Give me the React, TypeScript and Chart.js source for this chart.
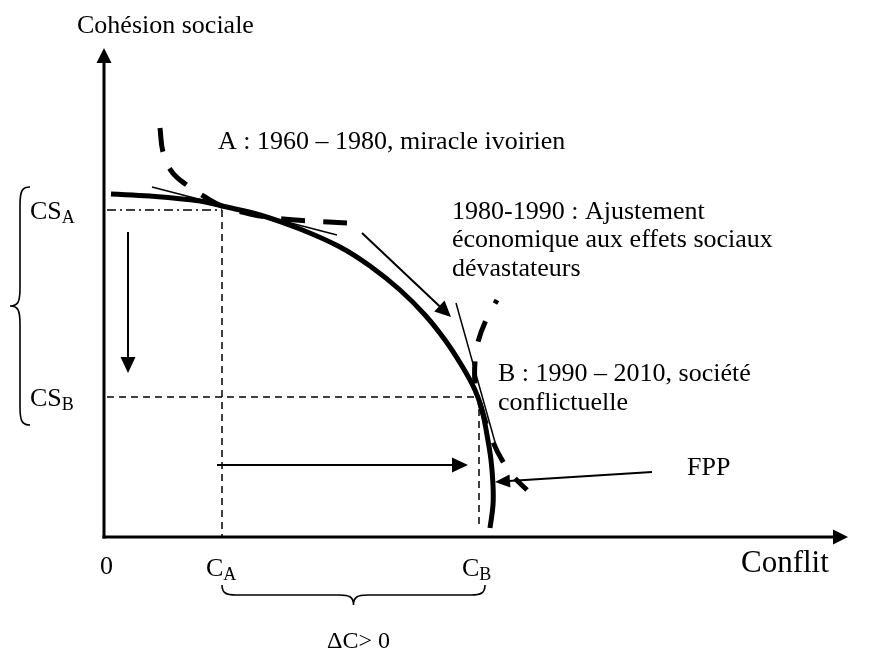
import React, { useEffect, useRef } from "react";
import { Chart, registerables } from "chart.js";
Chart.register(...registerables);

// Data units: origin where the two axes cross (Conflit → right, Cohésion sociale → up)
const xMin = -104;
const xMax = 765;
const yMin = -120;
const yMax = 537;

const yAxisTop = 489;
const xAxisEnd = 744;

// Frontière des possibilités de production (FPP)
const fppConflict = [7, 46, 96, 118, 156, 196, 236, 266, 296, 321, 341, 358, 371, 378, 383, 387, 389, 389, 386];
const fppCohesion = [343, 341, 336, 331, 322, 308, 290, 271, 247, 222, 197, 171, 147, 127, 102, 77, 52, 32, 9];

// Dashed curve tangent at A
const curveAConflict = [56, 59, 68, 84, 101, 118, 146, 179, 206, 243];
const curveACohesion = [409, 385, 365, 351, 340, 331, 323, 318, 316, 314];

// Dashed curve tangent at B
const curveBConflict = [393, 382, 374, 371, 371, 375, 381, 389, 398, 409, 423];
const curveBCohesion = [237, 217, 195, 175, 154, 137, 117, 95, 77, 61, 47];

// Thin tangents
const tangentAConflict = [48, 233];
const tangentACohesion = [350, 302];
const tangentBConflict = [352, 396];
const tangentBCohesion = [234, 77];

// Points A and B
const conflictA = 118;
const conflictB = 375;
const cohesionA = 327;
const cohesionB = 140;

// Arrows [from, to]
const adjustArrow = [[258, 304], [347, 220]];
const cohesionDropArrow = [[24, 305], [24, 164]];
const conflictRiseArrow = [[113, 72], [364, 72]];
const fppArrow = [[548, 65], [391, 55]];

// Braces
const leftBrace = { x: -74, tipX: -94, top: 350, bottom: 112 };
const bottomBrace = { y: -48, tipY: -68, left: 118, right: 381 };

const FONT = "'Liberation Serif', 'Times New Roman', serif";

const pts = (xs: number[], ys: number[]) => xs.map((x, i) => ({ x, y: ys[i] }));

function drawArrow(ctx: CanvasRenderingContext2D, x1: number, y1: number, x2: number, y2: number, lw: number, len: number, half: number) {
  const a = Math.atan2(y2 - y1, x2 - x1);
  const bx = x2 - len * Math.cos(a);
  const by = y2 - len * Math.sin(a);
  ctx.lineWidth = lw;
  ctx.beginPath();
  ctx.moveTo(x1, y1);
  ctx.lineTo(bx + Math.cos(a), by + Math.sin(a));
  ctx.stroke();
  ctx.beginPath();
  ctx.moveTo(x2, y2);
  ctx.lineTo(bx + half * Math.sin(a), by - half * Math.cos(a));
  ctx.lineTo(bx - half * Math.sin(a), by + half * Math.cos(a));
  ctx.closePath();
  ctx.fill();
}

function subText(ctx: CanvasRenderingContext2D, main: string, sub: string, x: number, y: number, size: number) {
  ctx.font = `${size}px ${FONT}`;
  ctx.textAlign = "left";
  ctx.textBaseline = "alphabetic";
  ctx.fillText(main, x, y);
  const w = ctx.measureText(main).width;
  ctx.font = `${Math.round(size * 0.68)}px ${FONT}`;
  ctx.fillText(sub, x + w, y + 4);
}

const overlay = {
  id: "overlay",
  beforeDatasetsDraw(chart: any) {
    const { ctx, scales } = chart;
    const px = (v: number) => scales.x.getPixelForValue(v);
    const py = (v: number) => scales.y.getPixelForValue(v);
    ctx.save();
    ctx.strokeStyle = "#000";
    ctx.fillStyle = "#000";
    ctx.lineCap = "butt";
    drawArrow(ctx, px(0), py(0) + 1.5, px(0), py(yAxisTop), 3, 15, 7.5);
    drawArrow(ctx, px(0) - 1.5, py(0), px(xAxisEnd), py(0), 3, 15, 7.5);
    ctx.restore();
  },
  afterDatasetsDraw(chart: any) {
    const { ctx, scales } = chart;
    const px = (v: number) => scales.x.getPixelForValue(v);
    const py = (v: number) => scales.y.getPixelForValue(v);
    ctx.save();
    ctx.strokeStyle = "#000";
    ctx.fillStyle = "#000";

    for (const [a, b] of [adjustArrow, cohesionDropArrow, conflictRiseArrow]) {
      drawArrow(ctx, px(a[0]), py(a[1]), px(b[0]), py(b[1]), 2, 16, 7.5);
    }
    drawArrow(ctx, px(fppArrow[0][0]), py(fppArrow[0][1]), px(fppArrow[1][0]), py(fppArrow[1][1]), 2, 15, 6.5);

    // Left brace
    ctx.lineWidth = 1.6;
    {
      const xe = px(leftBrace.x), xt = px(leftBrace.tipX), xm = (xe + xt) / 2;
      const t = py(leftBrace.top), b = py(leftBrace.bottom), m = (t + b) / 2, r = 18;
      ctx.beginPath();
      ctx.moveTo(xe, t);
      ctx.bezierCurveTo(xm + 2, t, xm, t + 4, xm, t + r);
      ctx.lineTo(xm, m - r);
      ctx.bezierCurveTo(xm, m - 4, xm - 2, m, xt, m);
      ctx.bezierCurveTo(xm - 2, m, xm, m + 4, xm, m + r);
      ctx.lineTo(xm, b - r);
      ctx.bezierCurveTo(xm, b - 4, xm + 2, b, xe, b);
      ctx.stroke();
    }
    // Bottom brace
    {
      const ye = py(bottomBrace.y), yt = py(bottomBrace.tipY), ym = (ye + yt) / 2;
      const l = px(bottomBrace.left), rr = px(bottomBrace.right), m = (l + rr) / 2, r = 14;
      ctx.beginPath();
      ctx.moveTo(l, ye);
      ctx.bezierCurveTo(l, ym - 2, l + 4, ym, l + r, ym);
      ctx.lineTo(m - r, ym);
      ctx.bezierCurveTo(m - 4, ym, m, ym + 2, m, yt);
      ctx.bezierCurveTo(m, ym + 2, m + 4, ym, m + r, ym);
      ctx.lineTo(rr - r, ym);
      ctx.bezierCurveTo(rr - 4, ym, rr, ym - 2, rr, ye);
      ctx.stroke();
    }

    // Texts
    const S = 26;
    ctx.textAlign = "left";
    ctx.textBaseline = "middle";
    ctx.font = `${S}px ${FONT}`;
    ctx.fillText("Cohésion sociale", px(-27), py(511));
    ctx.fillText("A : 1960 – 1980, miracle ivoirien", px(114), py(395));
    ctx.fillText("1980-1990 : Ajustement", px(348), py(325));
    ctx.fillText("économique aux effets sociaux", px(348), py(297));
    ctx.fillText("dévastateurs", px(348), py(268));
    ctx.fillText("B : 1990 – 2010, société", px(394), py(163));
    ctx.fillText("conflictuelle", px(394), py(134));
    ctx.fillText("FPP", px(583), py(69));
    ctx.fillText("0", px(-4), py(-30));
    ctx.font = `24px ${FONT}`;
    ctx.fillText("ΔC> 0", px(223), py(-105));
    ctx.font = `31px ${FONT}`;
    ctx.fillText("Conflit", px(637), py(-27));

    subText(ctx, "CS", "A", px(-74), py(cohesionA) + 9, S);
    subText(ctx, "CS", "B", px(-74), py(cohesionB) + 9, S);
    subText(ctx, "C", "A", px(conflictA - 16), py(-30) + 9, S);
    subText(ctx, "C", "B", px(conflictB - 17), py(-30) + 9, S);
    ctx.restore();
  },
};

export default function App() {
  const ref = useRef<HTMLCanvasElement>(null);
  useEffect(() => {
    const line = (data: any[], extra: any) => ({
      data,
      showLine: true,
      fill: false,
      pointRadius: 0,
      borderColor: "#000",
      borderCapStyle: "butt",
      tension: 0,
      ...extra,
    });
    const chart = new Chart(ref.current as HTMLCanvasElement, {
      type: "scatter",
      data: {
        datasets: [
          line([{ x: 3, y: cohesionA }, { x: conflictA, y: cohesionA }], { borderWidth: 1.5, borderDash: [9, 4, 2, 4] }),
          line([{ x: conflictA, y: cohesionA }, { x: conflictA, y: 0 }], { borderWidth: 1.5, borderDash: [7, 5] }),
          line([{ x: 3, y: cohesionB }, { x: conflictB, y: cohesionB }], { borderWidth: 1.5, borderDash: [7, 5] }),
          line([{ x: conflictB, y: cohesionB }, { x: conflictB, y: 10 }], { borderWidth: 1.5, borderDash: [7, 5] }),
          line(pts(fppConflict, fppCohesion), { borderWidth: 5, tension: 0.4, label: "FPP" }),
          line(pts(curveAConflict, curveACohesion), { borderWidth: 5, tension: 0.4, borderDash: [24, 18] }),
          line(pts(curveBConflict, curveBCohesion), { borderWidth: 5, tension: 0.4, borderDash: [22, 20], borderDashOffset: 18 }),
          line(pts(tangentAConflict, tangentACohesion), { borderWidth: 1.5 }),
          line(pts(tangentBConflict, tangentBCohesion), { borderWidth: 1.5 }),
        ],
      },
      options: {
        animation: false,
        responsive: false,
        devicePixelRatio: 1,
        layout: { padding: 0 },
        plugins: { legend: { display: false }, tooltip: { enabled: false } },
        scales: {
          x: { type: "linear", min: xMin, max: xMax, display: false },
          y: { type: "linear", min: yMin, max: yMax, display: false },
        },
      },
      plugins: [overlay],
    });
    return () => chart.destroy();
  }, []);
  return (
    <div style={{ position: "absolute", left: 0, top: 0, width: 869, height: 657, background: "#fff" }}>
      <canvas ref={ref} width={869} height={657} style={{ display: "block" }} />
    </div>
  );
}
